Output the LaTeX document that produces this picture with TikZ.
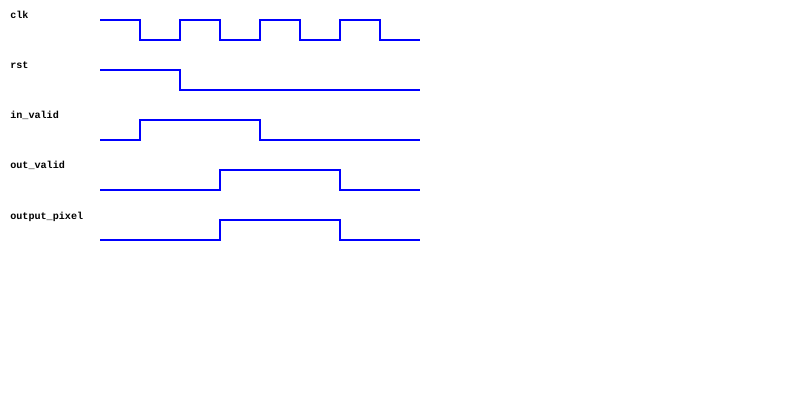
\documentclass[tikz,border=0pt]{standalone}
\usepackage{fontspec}
\setmonofont{Liberation Mono}
\usepackage{tikz}
\usetikzlibrary{positioning}

\begin{document}
\begin{tikzpicture}[x=0.025cm, y=-0.025cm, font=\fontsize{7.2pt}{8pt}\selectfont\ttfamily\bfseries]
    \tikzset{wave/.style={line width=1.4pt, blue}, siglabel/.style={anchor=base west, inner sep=0pt}}
    \useasboundingbox (0, 0) rectangle (800, 400);

    % Signal names
    \node[siglabel] (clk) at (10, 19) {clk};
    \node[siglabel] (rst) at (10, 69) {rst};
    \node[siglabel] (invalid) at (10, 119) {in\_valid};
    \node[siglabel] (outvalid) at (10, 169) {out\_valid};
    \node[siglabel] (outpixel) at (10, 219) {output\_pixel};

    % Clock: four periods
    \draw[wave] (100, 20)
        \foreach \t in {140, 220, 300} {
            -- (\t, 20) -- (\t, 40) -- (\t+40, 40) -- (\t+40, 20)
        } -- (380, 20) -- (380, 40) -- (420, 40);

    % Reset released after the second edge
    \draw[wave] (100, 70) -- (180, 70) -- (180, 90) -- (420, 90);

    % Input valid
    \draw[wave] (100, 140) -- (140, 140) -- (140, 120) -- (260, 120) -- (260, 140) -- (420, 140);

    % Output valid
    \draw[wave] (100, 190) -- (220, 190) -- (220, 170) -- (340, 170) -- (340, 190) -- (420, 190);

    % Output pixel
    \draw[wave] (100, 240) -- (220, 240) -- (220, 220) -- (340, 220) -- (340, 240) -- (420, 240);
\end{tikzpicture}
\end{document}
